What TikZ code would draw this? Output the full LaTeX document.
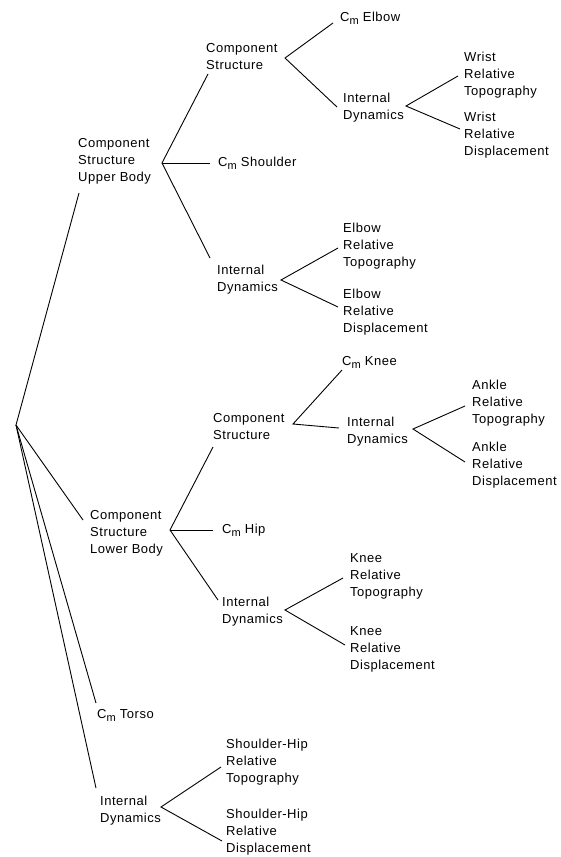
\documentclass[tikz,border=0pt]{standalone}
\usepackage{fontspec}
\setmainfont{Liberation Sans}[LetterSpace=4]
\newcommand\Csub{C\raisebox{-0.45ex}{\fontsize{11}{11}\selectfont m}}
\begin{document}
\begin{tikzpicture}[x=1pt,y=-1pt,
  lbl/.style={anchor=north west, inner sep=0pt, align=left, font=\fontsize{13}{17}\selectfont},
  conn/.style={line width=0.9pt, black}]
\useasboundingbox[fill=white] (0,0) rectangle (560,857);
% labels
\node[lbl] (cs1) at (206,43) {Component\\Structure};
\node[lbl] (ub) at (78,138) {Component\\Structure\\Upper Body};
\node[lbl] (cmelbow) at (340,12) {\Csub\ Elbow};
\node[lbl] (id1) at (343,93) {Internal\\Dynamics};
\node[lbl] (wrt) at (464,52) {Wrist\\Relative\\Topography};
\node[lbl] (wrd) at (464,112) {Wrist\\Relative\\Displacement};
\node[lbl] (cmsh) at (218,157) {\Csub\ Shoulder};
\node[lbl] (id2) at (217,265) {Internal\\Dynamics};
\node[lbl] (ert) at (343,223) {Elbow\\Relative\\Topography};
\node[lbl] (erd) at (343,289) {Elbow\\Relative\\Displacement};
\node[lbl] (cmknee) at (342,356) {\Csub\ Knee};
\node[lbl] (cs2) at (213,413) {Component\\Structure};
\node[lbl] (id3) at (347,417) {Internal\\Dynamics};
\node[lbl] (art) at (472,380) {Ankle\\Relative\\Topography};
\node[lbl] (ard) at (472,442) {Ankle\\Relative\\Displacement};
\node[lbl] (lb) at (90,510) {Component\\Structure\\Lower Body};
\node[lbl] (cmhip) at (222,524) {\Csub\ Hip};
\node[lbl] (id4) at (222,597) {Internal\\Dynamics};
\node[lbl] (krt) at (350,553) {Knee\\Relative\\Topography};
\node[lbl] (krd) at (350,626) {Knee\\Relative\\Displacement};
\node[lbl] (cmtorso) at (97,709) {\Csub\ Torso};
\node[lbl] (id5) at (100,796) {Internal\\Dynamics};
\node[lbl] (sht) at (226,739) {Shoulder-Hip\\Relative\\Topography};
\node[lbl] (shd) at (226,809) {Shoulder-Hip\\Relative\\Displacement};
% junctions
\coordinate (root) at (16,425);
\coordinate (j1) at (162,163);
\coordinate (j2) at (285,58);
\coordinate (j3) at (406,106);
\coordinate (j4) at (281,280);
\coordinate (j5) at (170,530);
\coordinate (j6) at (293,424);
\coordinate (j7) at (413,429);
\coordinate (j8) at (285,610);
\coordinate (j9) at (161,807);
% connector ends
\coordinate (e-ub) at (79,193);
\coordinate (e-lb) at (83,520);
\coordinate (e-torso) at (96,703);
\coordinate (e-id5) at (96,788);
\coordinate (e-cs1) at (208,74);
\coordinate (e-sh) at (210,163);
\coordinate (e-id2) at (210,258);
\coordinate (e-elbow) at (333,23);
\coordinate (e-id1) at (337,107);
\coordinate (e-wrt) at (458,76);
\coordinate (e-wrd) at (460,129);
\coordinate (e-ert) at (338,248);
\coordinate (e-erd) at (338,307);
\coordinate (e-cs2) at (213,447);
\coordinate (e-hip) at (213,530);
\coordinate (e-id4) at (218,600);
\coordinate (e-knee) at (342,370);
\coordinate (e-id3) at (339,428);
\coordinate (e-art) at (465,406);
\coordinate (e-ard) at (465,462);
\coordinate (e-krt) at (343,578);
\coordinate (e-krd) at (345,645);
\coordinate (e-sht) at (221,767);
\coordinate (e-shd) at (222,841);
% connectors
\draw[conn] (e-ub) -- (root) -- (e-lb);
\draw[conn] (root) -- (e-torso);
\draw[conn] (root) -- (e-id5);
\draw[conn] (e-cs1) -- (j1) -- (e-id2);
\draw[conn] (j1) -- (e-sh);
\draw[conn] (e-elbow) -- (j2) -- (e-id1);
\draw[conn] (e-wrt) -- (j3) -- (e-wrd);
\draw[conn] (e-ert) -- (j4) -- (e-erd);
\draw[conn] (e-cs2) -- (j5) -- (e-id4);
\draw[conn] (j5) -- (e-hip);
\draw[conn] (e-knee) -- (j6) -- (e-id3);
\draw[conn] (e-art) -- (j7) -- (e-ard);
\draw[conn] (e-krt) -- (j8) -- (e-krd);
\draw[conn] (e-sht) -- (j9) -- (e-shd);
\end{tikzpicture}
\end{document}
